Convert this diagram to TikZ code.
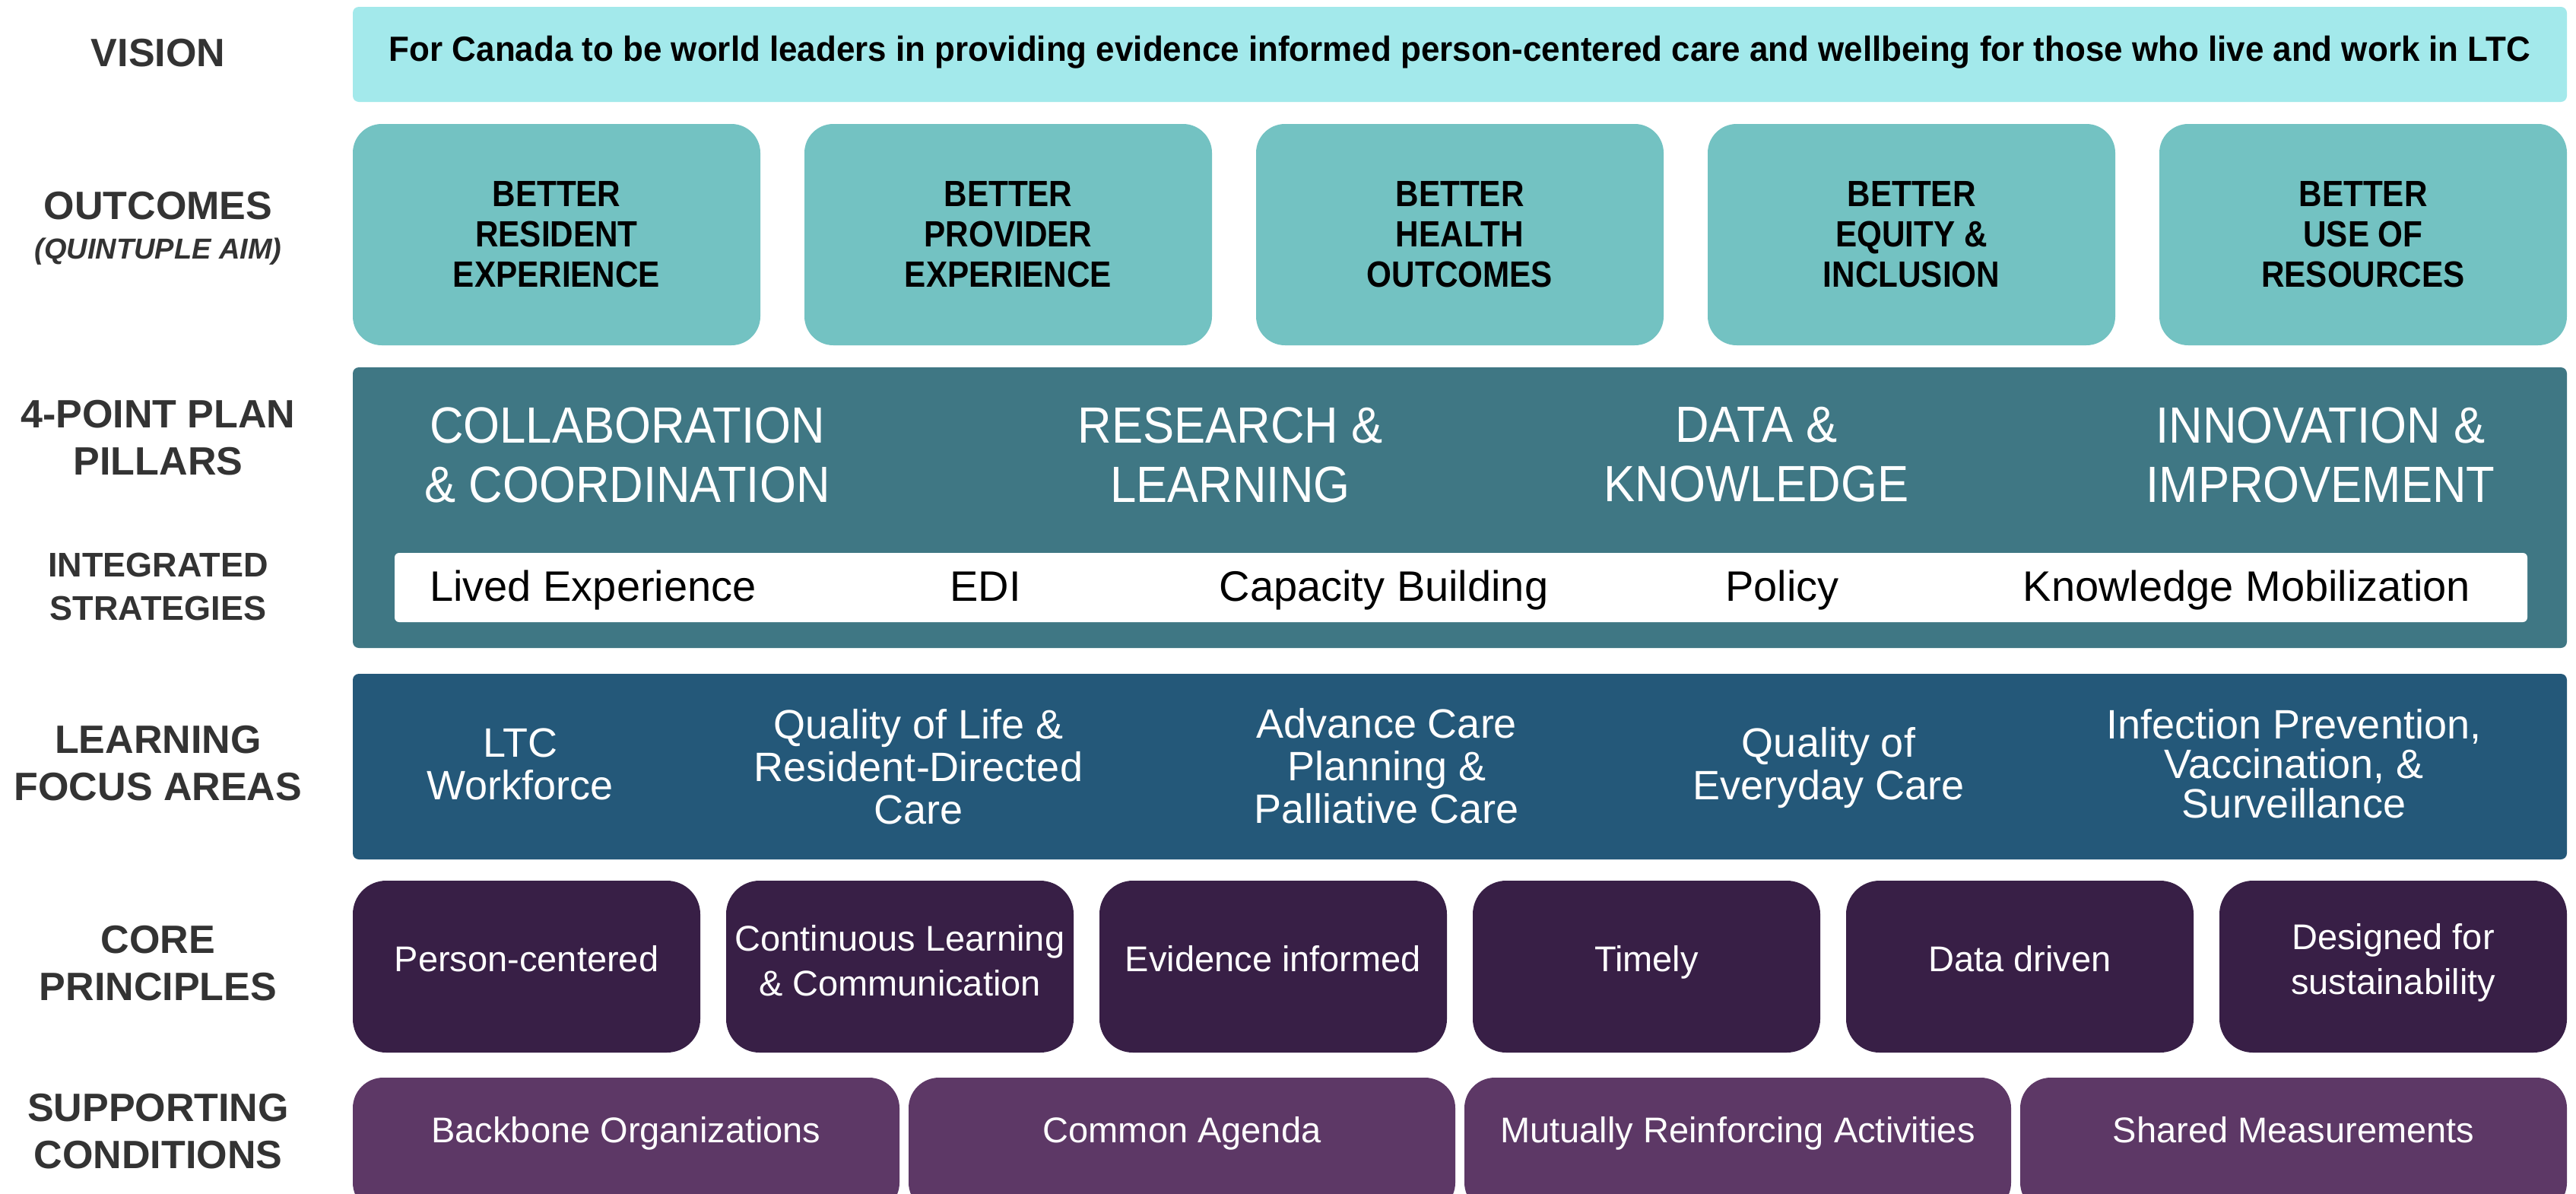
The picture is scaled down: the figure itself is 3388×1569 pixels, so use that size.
\documentclass[tikz,border=0pt]{standalone}
\usepackage{fontspec}
\setmainfont{Liberation Sans}
\newfontfamily\condfont[FakeStretch=0.88]{Liberation Sans}
\newfontfamily\pillfont[FakeStretch=0.92]{Liberation Sans}
\newfontfamily\visfont[FakeStretch=0.955]{Liberation Sans}
\definecolor{visionc}{HTML}{A3E9EB}
\definecolor{outc}{HTML}{73C2C2}
\definecolor{pillc}{HTML}{3F7784}
\definecolor{focc}{HTML}{245879}
\definecolor{corec}{HTML}{381F46}
\definecolor{supc}{HTML}{5D3866}
\definecolor{labc}{HTML}{333333}
\begin{document}
\begin{tikzpicture}[x=0.5pt,y=-0.5pt,
  shp/.style={draw=none,inner sep=0,outer sep=0,anchor=north west},
  visionbox/.style={shp,fill=visionc,rounded corners=4pt,minimum width=1456pt,minimum height=62.5pt},
  outbox/.style={shp,fill=outc,rounded corners=19pt,minimum width=268pt,minimum height=145.5pt},
  pillbox/.style={shp,fill=pillc,rounded corners=4pt,minimum width=1456pt,minimum height=184.5pt},
  stratbar/.style={shp,fill=white,rounded corners=3pt,minimum width=1402.5pt,minimum height=45.5pt},
  focbox/.style={shp,fill=focc,rounded corners=4pt,minimum width=1456pt,minimum height=122pt},
  corebox/.style={shp,fill=corec,rounded corners=22pt,minimum width=228.5pt,minimum height=113pt},
  supbox/.style={shp,fill=supc,rounded corners=20pt,minimum width=359.5pt,minimum height=89pt},
  lab/.style={text=labc,font=\bfseries\fontsize{26}{31}\selectfont,align=center,inner sep=0},
  visiont/.style={font=\visfont\bfseries\fontsize{23}{26}\selectfont,inner sep=0,anchor=base},
  outt/.style={font=\condfont\bfseries\fontsize{24}{26.5}\selectfont,align=center,inner sep=0},
  pilt/.style={text=white,font=\pillfont\fontsize{33.5}{39}\selectfont,align=center,inner sep=0},
  strt/.style={font=\fontsize{28}{33}\selectfont,inner sep=0,anchor=base},
  foct/.style={text=white,font=\fontsize{27}{28}\selectfont,align=center,inner sep=0},
  coret/.style={text=white,font=\fontsize{23.5}{29.5}\selectfont,align=center,inner sep=0},
  supt/.style={text=white,font=\fontsize{23.5}{28}\selectfont,inner sep=0,anchor=base}
]
\useasboundingbox (0,0) rectangle (3388,1569);
\clip (0,0) rectangle (3388,1569);
\fill[white] (0,0) rectangle (3388,1569);

% left labels
\node[lab,anchor=base] (lvision) at (208,87) {VISION};
\node[lab,anchor=base] (lout) at (208,288) {OUTCOMES};
\node[lab,anchor=base,font=\bfseries\itshape\fontsize{19}{22}\selectfont] (lquint) at (208,340) {(QUINTUPLE AIM)};
\node[lab] (lpill) at (208,576) {4-POINT PLAN\\PILLARS};
\node[lab,font=\bfseries\fontsize{22.5}{28.5}\selectfont] (lint) at (208,771) {INTEGRATED\\STRATEGIES};
\node[lab] (lfoc) at (208,1004) {LEARNING\\FOCUS AREAS};
\node[lab] (lcore) at (208,1267) {CORE\\PRINCIPLES};
\node[lab] (lsup) at (208,1488) {SUPPORTING\\CONDITIONS};

% vision
\node[visionbox] (vision) at (464,9) {};
\node[visiont] (visiontext) at (1920,80) {For Canada to be world leaders in providing evidence informed person-centered care and wellbeing for those who live and work in LTC};

% outcomes
\node[outbox] (o1) at (464,163) {};
\node[outbox] (o2) at (1058,163) {};
\node[outbox] (o3) at (1652,163) {};
\node[outbox] (o4) at (2246,163) {};
\node[outbox] (o5) at (2840,163) {};
\node[outt] (o1t) at (o1.center) {BETTER\\RESIDENT\\EXPERIENCE};
\node[outt] (o2t) at (o2.center) {BETTER\\PROVIDER\\EXPERIENCE};
\node[outt] (o3t) at (o3.center) {BETTER\\HEALTH\\OUTCOMES};
\node[outt] (o4t) at (o4.center) {BETTER\\EQUITY \&\\INCLUSION};
\node[outt] (o5t) at (o5.center) {BETTER\\USE OF\\RESOURCES};

% pillars
\node[pillbox] (pill) at (464,483) {};
\node[pilt] (p1) at (825,598) {COLLABORATION\\\& COORDINATION};
\node[pilt] (p2) at (1618,598) {RESEARCH \&\\LEARNING};
\node[pilt] (p3) at (2310,598) {DATA \&\\KNOWLEDGE};
\node[pilt] (p4) at (3052,598) {INNOVATION \&\\IMPROVEMENT};

% strategies
\node[stratbar] (strat) at (519,727) {};
\node[strt] (s1) at (780,790) {Lived Experience};
\node[strt] (s2) at (1296,790) {EDI};
\node[strt] (s3) at (1820,790) {Capacity Building};
\node[strt] (s4) at (2344,790) {Policy};
\node[strt] (s5) at (2955,790) {Knowledge Mobilization};

% focus areas
\node[focbox] (foc) at (464,886) {};
\node[foct] (f1) at (684,1005) {LTC\\Workforce};
\node[foct] (f2) at (1208,1008) {Quality of Life \&\\Resident-Directed\\Care};
\node[foct] (f3) at (1824,1007) {Advance Care\\Planning \&\\Palliative Care};
\node[foct] (f4) at (2405,1010) {Quality of\\Everyday Care};
\node[foct,font=\fontsize{27}{26}\selectfont] (f5) at (3017,1004) {Infection Prevention,\\Vaccination, \&\\Surveillance};

% core principles
\node[corebox] (c1) at (464,1158) {};
\node[corebox] (c2) at (955,1158) {};
\node[corebox] (c3) at (1446,1158) {};
\node[corebox] (c4) at (1937,1158) {};
\node[corebox] (c5) at (2428,1158) {};
\node[corebox] (c6) at (2919,1158) {};
\node[coret,anchor=base] (c1t) at (692.5,1277) {Person-centered};
\node[coret] (c2t) at (1183.5,1263) {Continuous Learning\\\& Communication};
\node[coret,anchor=base] (c3t) at (1674.5,1277) {Evidence informed};
\node[coret,anchor=base] (c4t) at (2165.5,1277) {Timely};
\node[coret,anchor=base] (c5t) at (2656.5,1277) {Data driven};
\node[coret] (c6t) at (3147.5,1266) {Designed for\\sustainability};

% supporting conditions
\node[supbox] (u1) at (464,1417) {};
\node[supbox] (u2) at (1195,1417) {};
\node[supbox] (u3) at (1926,1417) {};
\node[supbox] (u4) at (2657,1417) {};
\node[supt] (u1t) at (823.5,1502) {Backbone Organizations};
\node[supt] (u2t) at (1554.5,1502) {Common Agenda};
\node[supt] (u3t) at (2285.5,1502) {Mutually Reinforcing Activities};
\node[supt] (u4t) at (3016.5,1502) {Shared Measurements};
\end{tikzpicture}
\end{document}
